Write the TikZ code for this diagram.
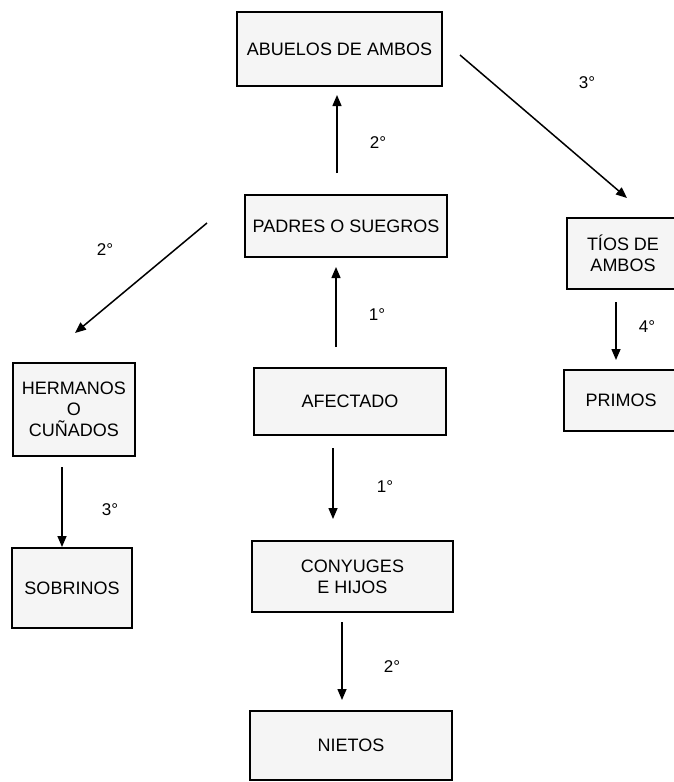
\documentclass[tikz,border=0pt]{standalone}
\usepackage{fontspec}
\setmainfont{Liberation Sans}
\usepackage{tikz}
\usetikzlibrary{arrows.meta}
\tikzset{caja/.style={draw, line width=1.5pt, fill=black!4, align=center,
                      inner sep=0pt, outer sep=0pt,
                      font=\fontsize{18}{21}\selectfont},
         grado/.style={font=\fontsize{17}{20}\selectfont},
         flecha/.style={-{Triangle[length=11pt,width=9pt]}, line width=1.5pt}}

\begin{document}
\begin{tikzpicture}[x=1pt,y=-1pt]
\useasboundingbox (0,0) rectangle (673,782);
\node[caja, minimum width=205pt, minimum height=74pt] (abuelos) at (339.5,49) {ABUELOS DE AMBOS};
\node[caja, minimum width=202pt, minimum height=62pt] (padres) at (346,226) {PADRES O SUEGROS};
\node[caja, minimum width=192pt, minimum height=67pt] (afectado) at (350,401.5) {AFECTADO};
\node[caja, minimum width=201pt, minimum height=71pt] (conyuges) at (352.5,576.5) {CONYUGES\\E HIJOS};
\node[caja, minimum width=202pt, minimum height=69pt] (nietos) at (351,745.5) {NIETOS};
\node[caja, minimum width=122pt, minimum height=93pt] (hermanos) at (74,409.5) {HERMANOS\\O\\CUÑADOS};
\node[caja, minimum width=120pt, minimum height=80pt] (sobrinos) at (72,588) {SOBRINOS};
\node[caja, minimum width=112pt, minimum height=71pt] (tios) at (623,253.5) {TÍOS DE\\AMBOS};
\node[caja, minimum width=114pt, minimum height=61pt] (primos) at (621,400.5) {PRIMOS};
\draw[flecha] ([shift={(-9,-22)}]padres.north) -- ([shift={(-2.5,9)}]abuelos.south);
\draw[flecha] ([shift={(-14,-21)}]afectado.north) -- ([shift={(-10,10)}]padres.south);
\draw[flecha] ([shift={(-17,13)}]afectado.south) -- ([shift={(-19.5,-22)}]conyuges.north);
\draw[flecha] ([shift={(-10.5,10)}]conyuges.south) -- ([shift={(-9,-11)}]nietos.north);
\draw[flecha] ([shift={(18,6)}]abuelos.east) -- ([shift={(4,-20)}]tios.north);
\draw[flecha] ([shift={(-38,-3)}]padres.west) -- ([shift={(1,-30)}]hermanos.north);
\draw[flecha] ([shift={(-12,11)}]hermanos.south) -- ([shift={(-10,-1)}]sobrinos.north);
\draw[flecha] ([shift={(-7,13)}]tios.south) -- ([shift={(-5,-10)}]primos.north);
\node[grado] (g1) at (587,83) {3°};
\node[grado] (g2) at (378,143) {2°};
\node[grado] (g3) at (377,315) {1°};
\node[grado] (g4) at (385,487) {1°};
\node[grado] (g5) at (392,667) {2°};
\node[grado] (g6) at (105,250) {2°};
\node[grado] (g7) at (110,510) {3°};
\node[grado] (g8) at (647,327) {4°};
\end{tikzpicture}
\end{document}
